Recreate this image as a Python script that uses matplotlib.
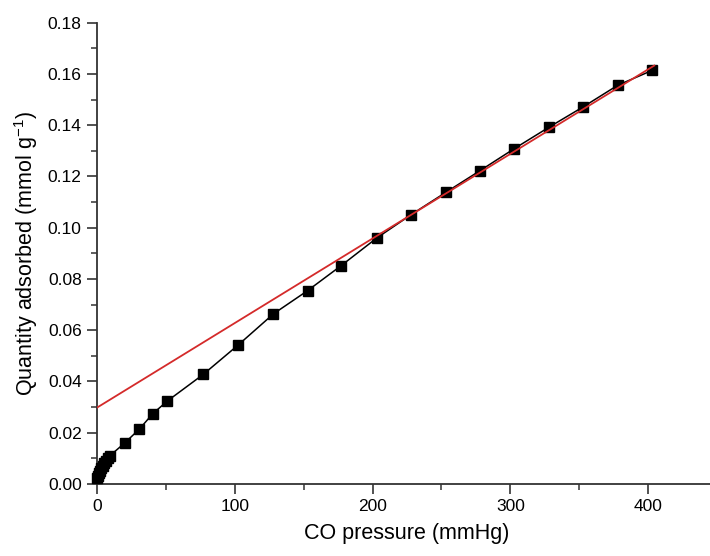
import matplotlib
matplotlib.use('Agg')
import matplotlib.pyplot as plt
import numpy as np
from matplotlib.ticker import MultipleLocator

plt.rcParams['font.family'] = ['Liberation Sans', 'DejaVu Sans']

# measured isotherm points (CO pressure in mmHg, quantity in mmol/g)
pressure = [0.3, 0.8, 1.5, 2.3, 3.2, 4.2, 5.3, 6.5, 7.8, 9.3,
            20.3, 30.7, 40.6, 51.1, 77.2, 102.6, 128.1, 153.0, 177.2,
            203.1, 228.0, 253.2, 278.1, 303.0, 328.3, 353.0, 378.0, 403.0]
quantity = [0.0022, 0.0032, 0.0042, 0.0052, 0.0062, 0.0072, 0.0082, 0.0091, 0.0100, 0.0110,
            0.0161, 0.0214, 0.0275, 0.0324, 0.0428, 0.0543, 0.0664, 0.0755, 0.0852,
            0.0960, 0.1051, 0.1138, 0.1223, 0.1309, 0.1393, 0.1472, 0.1556, 0.1614]

# linear fit of the high pressure region
fit_x = [0, 404.5]
fit_intercept = 0.0298
fit_slope = 3.30e-4

fig = plt.figure(figsize=(7.1, 5.56), dpi=100)
ax = fig.add_axes([97 / 710, 72 / 556, 620 / 710, 461.3 / 556])

ax.plot(pressure, quantity, color='black', lw=1.1, marker='s', ms=7.5,
        mfc='black', mec='black', clip_on=False, zorder=3)
fx = np.asarray(fit_x)
ax.plot(fx, fit_intercept + fit_slope * fx, color='#d42a2a', lw=1.3, zorder=4)

ax.set_xlim(0, 450)
ax.set_ylim(0, 0.18)
ax.xaxis.set_major_locator(MultipleLocator(100))
ax.xaxis.set_minor_locator(MultipleLocator(50))
ax.yaxis.set_major_locator(MultipleLocator(0.02))
ax.yaxis.set_minor_locator(MultipleLocator(0.01))
ax.yaxis.set_major_formatter(plt.FormatStrFormatter('%.2f'))

for s in ['top', 'right']:
    ax.spines[s].set_visible(False)
for s in ['left', 'bottom']:
    ax.spines[s].set_linewidth(1.3)
    ax.spines[s].set_color('#333333')

ax.tick_params(which='major', direction='out', length=7, width=1.2, labelsize=12.5,
               color='#333333', pad=4)
ax.tick_params(which='minor', direction='out', length=4, width=1.1, color='#333333')

ax.set_xlabel('CO pressure (mmHg)', fontsize=15.5, labelpad=6)
ax.set_ylabel('Quantity adsorbed (mmol g$^{\\mathregular{-1}}$)', fontsize=15.5, labelpad=6)

fig.savefig('out.png', dpi=100)
